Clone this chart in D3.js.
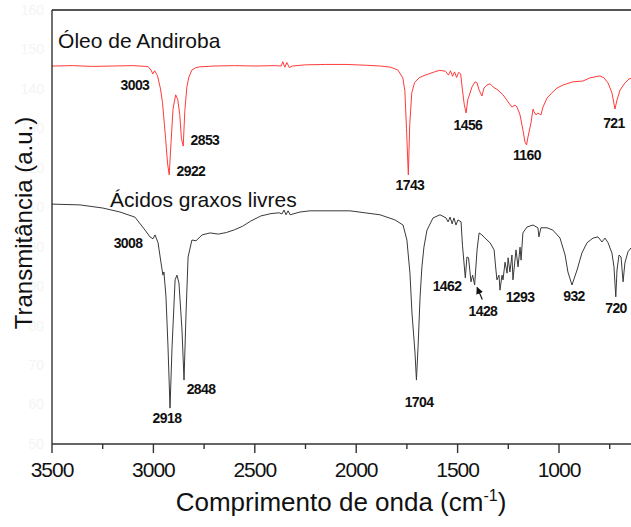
<!DOCTYPE html>
<html>
<head>
<meta charset="utf-8">
<script src="https://cdn.jsdelivr.net/npm/d3@7/dist/d3.min.js"></script>
<style>
  body { margin: 0; background: #fff; }
  svg { display: block; font-family: "Liberation Sans", Arial, sans-serif; }
</style>
</head>
<body>
<svg width="631" height="527"></svg>
<script>
// red spectrum: Óleo de Andiroba (wavenumber, transmittance)
var oleoWn = [3500,3400,3300,3200,3100,3040,3025,3012,3003,2994,2980,2965,2955,2940,2930,2922,2913,2903,2890,2880,2870,2862,2853,2845,2835,2825,2810,2790,2770,2700,2600,2500,2400,2370,2362,2352,2342,2330,2315,2250,2150,2050,1950,1880,1830,1795,1770,1760,1752,1743,1736,1726,1712,1690,1665,1620,1590,1560,1545,1535,1525,1515,1505,1495,1485,1476,1467,1458,1450,1429,1414,1404,1394,1380,1370,1355,1340,1325,1301,1276,1251,1232,1217,1207,1192,1178,1168,1160,1153,1138,1128,1123,1113,1104,1089,1079,1059,1035,1010,980,931,882,847,798,778,758,739,724,714,699,675,655,600];
var oleoT = [145.8,145.9,145.7,145.8,145.9,145.7,145.6,144.8,143.8,144.6,143.4,140.0,136.5,127.5,121.0,118.2,126.5,135.0,138.5,137.3,133.5,127.5,125.5,134.5,140.5,143.0,144.8,145.4,145.6,145.8,145.9,145.8,145.9,145.8,146.9,145.5,146.7,145.4,145.8,146.1,146.2,146.2,146.0,145.8,145.5,144.8,142.8,139.5,130.0,118.2,131.0,139.0,141.6,142.8,143.4,144.2,144.7,144.5,143.5,144.6,143.2,144.3,142.9,144.2,143.8,139.7,136.0,133.9,137.2,140.5,141.8,141.5,139.7,138.2,140.2,141.0,141.3,140.5,139.7,138.5,136.7,135.4,135.9,135.4,133.4,129.6,126.6,125.8,127.8,131.4,134.9,134.2,133.4,133.9,133.4,135.4,137.7,139.0,140.2,141.0,141.8,142.0,142.8,143.3,142.8,141.5,139.0,134.9,137.2,139.7,141.5,142.5,143.3];

// black spectrum: Ácidos graxos livres
var acidosWn = [3500,3362,3249,3165,3091,3041,3017,3002,2992,2977,2963,2953,2948,2938,2928,2918,2908,2893,2884,2874,2859,2849,2839,2829,2810,2790,2760,2720,2680,2640,2600,2560,2520,2470,2420,2380,2366,2356,2346,2336,2326,2277,2228,2031,1883,1809,1769,1750,1735,1725,1710,1703,1695,1685,1676,1666,1651,1621,1587,1557,1547,1537,1527,1518,1508,1498,1483,1476,1462,1454,1446,1434,1426,1416,1404,1394,1380,1365,1340,1320,1311,1306,1296,1291,1281,1276,1266,1256,1251,1242,1232,1227,1212,1202,1192,1187,1178,1158,1128,1104,1099,1089,1059,1030,995,970,956,936,911,887,862,832,808,788,773,758,739,729,720,714,704,694,684,675,660,645,600];
var acidosT = [110.8,110.6,109.8,108.8,107.5,104.2,102.5,102.0,103.0,101.0,96.1,92.8,93.6,87.3,74.6,59.1,74.6,91.6,92.8,90.8,78.9,66.2,83.2,97.4,101.7,101.5,103.0,103.5,103.2,103.6,104.3,105.2,106.5,107.8,108.4,108.6,108.3,109.3,108.1,109.1,108.1,108.8,109.1,109.1,108.1,106.8,105.5,101.7,93.3,83.2,73.1,66.2,74.6,87.3,94.9,99.9,104.2,107.3,108.1,107.3,106.3,107.5,105.8,107.3,105.5,106.8,106.3,100.4,92.1,97.4,97.2,91.1,92.8,90.3,99.2,103.5,103.0,102.2,101.0,99.2,94.1,91.6,92.8,89.0,92.8,91.6,96.1,93.3,97.2,93.6,97.9,91.6,99.2,94.9,99.9,96.6,103.5,105.0,105.5,104.8,102.5,104.8,104.8,104.2,102.2,97.9,93.6,90.3,94.1,98.4,101.0,102.2,102.5,101.2,102.2,101.0,98.4,94.9,87.3,94.1,97.9,97.4,91.1,95.9,98.7,99.7,100.7];

// peak annotations: text, label centre (wavenumber, transmittance)
var peakText = ["3003","2853","2922","1743","1456","1160","721","3008","2918","2848","1704","1462","1428","1293","932","720"];
var peakWn   = [3091,2746,2815,1735,1449,1158,729,3125,2933,2765,1690,1552,1375,1192,926,719];
var peakT    = [141.0,127.1,119.2,115.7,130.9,123.3,131.4,101.0,56.6,63.9,60.6,90.1,83.7,87.3,87.5,84.5];

var xTicks = [3500,3000,2500,2000,1500,1000];
var xMinor = [3250,2750,2250,1750,1250,750];
var yTicks = [50,60,70,80,90,100,110,120,130,140,150,160];

var svg = d3.select("svg"),
    width = +svg.attr("width"),
    height = +svg.attr("height");

var plotLeft = 52, plotTop = 10, plotBottom = 444;

var x = d3.scaleLinear().domain([3500, 1000]).range([plotLeft, 559]);
var y = d3.scaleLinear().domain([50, 160]).range([plotBottom, plotTop]);

// faint y labels (almost invisible in the original)
svg.append("g")
  .selectAll("text")
  .data(yTicks)
  .enter().append("text")
    .attr("x", plotLeft - 8)
    .attr("y", function(d) { return y(d); })
    .attr("dy", "0.35em")
    .attr("text-anchor", "end")
    .attr("fill", "#f4f4f4")
    .style("font-size", "14px")
    .text(function(d) { return d; });

// spectra
var line = d3.line()
    .x(function(d) { return x(d[0]); })
    .y(function(d) { return y(d[1]); });

svg.append("path")
    .datum(d3.zip(oleoWn, oleoT))
    .attr("fill", "none")
    .attr("stroke", "#ff3b3b")
    .attr("stroke-width", 1)
    .attr("d", line);

svg.append("path")
    .datum(d3.zip(acidosWn, acidosT))
    .attr("fill", "none")
    .attr("stroke", "#3a3a3a")
    .attr("stroke-width", 1)
    .attr("d", line);

// frame: top and left
svg.append("line")
    .attr("x1", plotLeft).attr("x2", width)
    .attr("y1", plotTop).attr("y2", plotTop)
    .attr("stroke", "#555").attr("stroke-width", 1.8);
svg.append("line")
    .attr("x1", plotLeft).attr("x2", plotLeft)
    .attr("y1", plotTop).attr("y2", plotBottom)
    .attr("stroke", "#111").attr("stroke-width", 1.2);

// bottom axis
var xAxis = svg.append("g")
    .attr("transform", "translate(0," + plotBottom + ")");
xAxis.append("line")
    .attr("x1", plotLeft).attr("x2", width)
    .attr("stroke", "#333").attr("stroke-width", 1.6);
xAxis.selectAll(".major")
  .data(xTicks)
  .enter().append("line")
    .attr("class", "major")
    .attr("x1", function(d) { return x(d); })
    .attr("x2", function(d) { return x(d); })
    .attr("y2", 9)
    .attr("stroke", "#333").attr("stroke-width", 1.4);
xAxis.selectAll(".minor")
  .data(xMinor)
  .enter().append("line")
    .attr("class", "minor")
    .attr("x1", function(d) { return x(d); })
    .attr("x2", function(d) { return x(d); })
    .attr("y2", 5)
    .attr("stroke", "#333").attr("stroke-width", 1.4);
xAxis.selectAll("text")
  .data(xTicks)
  .enter().append("text")
    .attr("x", function(d) { return x(d); })
    .attr("y", 33)
    .attr("text-anchor", "middle")
    .attr("fill", "#111")
    .style("font-size", "21px")
    .style("letter-spacing", "-1px")
    .text(function(d) { return d; });

// axis titles
var xt = svg.append("text")
    .attr("x", 341)
    .attr("y", 511)
    .attr("text-anchor", "middle")
    .attr("fill", "#111")
    .style("font-size", "26px");
xt.append("tspan").text("Comprimento de onda (cm");
xt.append("tspan").attr("dy", -10).style("font-size", "16px").text("-1");
xt.append("tspan").attr("dy", 10).text(")");

svg.append("text")
    .attr("transform", "translate(32,223) rotate(-90)")
    .attr("text-anchor", "middle")
    .attr("fill", "#111")
    .style("font-size", "24px")
    .text("Transmitância (a.u.)");

// series names
svg.append("text")
    .attr("x", x(3470)).attr("y", y(150.4))
    .attr("fill", "#111")
    .style("font-size", "21px")
    .text("Óleo de Andiroba");
svg.append("text")
    .attr("x", x(3214)).attr("y", y(110.1))
    .attr("fill", "#111")
    .style("font-size", "21px")
    .text("Ácidos graxos livres");

// peak labels
svg.append("g")
  .selectAll("text")
  .data(peakText)
  .enter().append("text")
    .attr("x", function(d, i) { return x(peakWn[i]); })
    .attr("y", function(d, i) { return y(peakT[i]); })
    .attr("dy", "0.35em")
    .attr("text-anchor", "middle")
    .attr("fill", "#111")
    .style("font-size", "14px")
    .style("letter-spacing", "-0.6px")
    .style("font-weight", "bold")
    .text(function(d) { return d; });

// little arrow towards the 1428 band
svg.append("defs").append("marker")
    .attr("id", "head")
    .attr("viewBox", "0 0 10 10")
    .attr("refX", 9).attr("refY", 5)
    .attr("markerWidth", 6).attr("markerHeight", 6)
    .attr("orient", "auto")
  .append("path")
    .attr("d", "M0,0L10,5L0,10z")
    .attr("fill", "#111");
svg.append("line")
    .attr("x1", x(1378)).attr("y1", y(86.6))
    .attr("x2", x(1404)).attr("y2", y(89.7))
    .attr("stroke", "#111").attr("stroke-width", 1.2)
    .attr("marker-end", "url(#head)");
</script>
</body>
</html>
